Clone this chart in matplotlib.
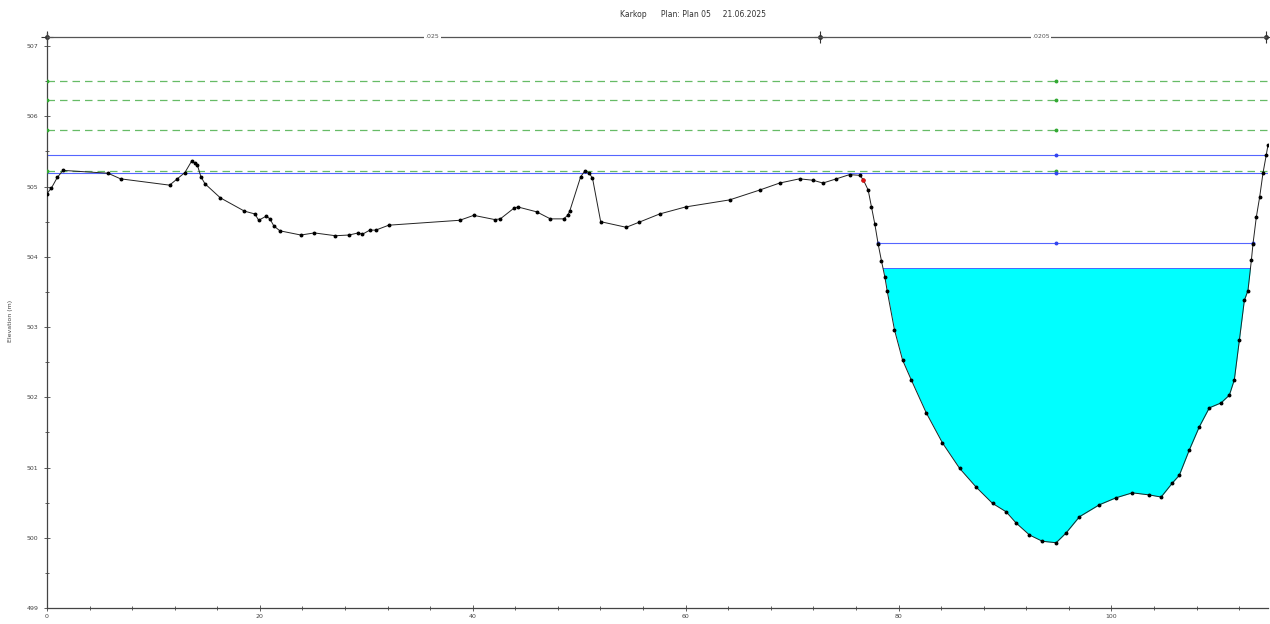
import numpy as np
import matplotlib
matplotlib.use("Agg")
import matplotlib.pyplot as plt
from matplotlib.ticker import MultipleLocator


# ground profile: station (m), elevation (m)
station = [0.0, 0.42, 0.97, 1.50, 5.73, 6.91, 11.52, 12.24, 12.96, 13.58, 13.94,
           14.12, 14.46, 14.84, 16.28, 18.55, 19.53, 19.89, 20.61, 20.94, 21.31,
           21.88, 23.85, 25.12, 27.10, 28.36, 29.26, 29.62, 30.33, 30.89, 32.11,
           38.78, 40.09, 42.07, 42.59, 43.85, 44.23, 46.01, 47.29, 48.54, 48.92,
           49.11, 50.14, 50.52, 50.89, 51.25, 52.02, 54.42, 55.59, 57.56, 60.00,
           64.13, 66.95, 68.83, 70.70, 71.96, 72.90, 74.16, 75.40, 76.34, 76.68,
           77.15, 77.46, 77.77, 78.09, 78.40, 78.72, 78.94, 79.62, 80.38, 81.19,
           82.60, 84.13, 85.73, 87.30, 88.83, 90.11, 91.05, 92.30, 93.52, 94.81,
           95.75, 97.00, 98.87, 100.44, 101.97, 103.57, 104.67, 105.73, 106.38,
           107.32, 108.26, 109.20, 110.30, 111.08, 111.55, 112.02, 112.49, 112.83,
           113.15, 113.30, 113.62, 113.93, 114.24, 114.55, 114.71]
elevation = [504.90, 504.98, 505.13, 505.23, 505.19, 505.11, 505.02, 505.11, 505.20,
             505.36, 505.33, 505.31, 505.14, 505.04, 504.84, 504.65, 504.61, 504.52,
             504.58, 504.54, 504.44, 504.37, 504.31, 504.34, 504.30, 504.31, 504.34,
             504.32, 504.38, 504.38, 504.45, 504.52, 504.59, 504.53, 504.54, 504.69,
             504.71, 504.64, 504.54, 504.54, 504.59, 504.65, 505.14, 505.22, 505.20,
             505.12, 504.50, 504.42, 504.49, 504.61, 504.71, 504.81, 504.95, 505.05,
             505.11, 505.09, 505.05, 505.11, 505.17, 505.16, 505.10, 504.95, 504.71,
             504.47, 504.18, 503.94, 503.71, 503.51, 502.96, 502.53, 502.25, 501.78,
             501.35, 500.99, 500.72, 500.49, 500.37, 500.21, 500.04, 499.95, 499.93,
             500.07, 500.30, 500.47, 500.57, 500.64, 500.61, 500.58, 500.78, 500.89,
             501.25, 501.58, 501.85, 501.92, 502.03, 502.25, 502.81, 503.38, 503.52,
             503.95, 504.18, 504.57, 504.85, 505.19, 505.45, 505.59]

# water surfaces
ws_dashed = [506.50, 506.23, 505.80, 505.22]
ws_full = [505.45, 505.19]
ws_channel = 504.20
ws_fill = 503.84

bank_left = 76.68
n_breaks = [0.0, 72.6, 114.5]
n_values = [".025", ".0205"]
n_label_x = [36.2, 93.4]

title = "Karkop      Plan: Plan 05     21.06.2025"

x = np.array(station)
z = np.array(elevation)
x_max = 114.71


def bank_crossings(level):
    # stations where the channel banks cross a given level
    left = (x > 70) & (x < 95)
    right = x >= 95
    xl = np.interp(level, z[left][::-1], x[left][::-1])
    xr = np.interp(level, z[right], x[right])
    return xl, xr


fig = plt.figure(figsize=(12.7, 6.24), dpi=100)
ax = fig.add_axes([0.037, 0.0256, 0.9614, 0.9214])

# water in the channel
ax.fill_between(x, z, ws_fill, where=z < ws_fill, interpolate=True,
                color="#00ffff", linewidth=0, zorder=1)
xl, xr = bank_crossings(ws_fill)
ax.plot([xl, xr], [ws_fill, ws_fill], color="#4466ff", lw=0.7, zorder=2)

# other water surfaces
for lvl in ws_dashed:
    ax.plot([0, x_max], [lvl, lvl], color="#66bb66", lw=0.9, ls=(0, (6, 4)), zorder=2)
    ax.plot([0, 94.8], [lvl, lvl], ls="none", marker="o", ms=1.8, color="#33aa33", zorder=3)
for lvl in ws_full:
    ax.plot([0, x_max], [lvl, lvl], color="#5566ff", lw=0.8, zorder=2)
    ax.plot([94.8], [lvl], ls="none", marker="o", ms=1.8, color="#3344ee", zorder=3)
xl, xr = bank_crossings(ws_channel)
ax.plot([xl, xr], [ws_channel, ws_channel], color="#5566ff", lw=0.8, zorder=2)
ax.plot([xl, 94.8, xr], [ws_channel] * 3, ls="none", marker="o", ms=1.8,
        color="#3344ee", zorder=3)

# ground
ax.plot(x, z, color="#222222", lw=0.7, marker="o", ms=1.8, mfc="black",
        mec="black", zorder=4)
ax.plot([bank_left], [np.interp(bank_left, x, z)], ls="none", marker="o", ms=2.2,
        color="#dd1111", zorder=5)

# manning's n bar
y_bar = 507.13
ax.plot([0, 114.5], [y_bar, y_bar], color="#555555", lw=0.9, zorder=3, clip_on=False)
ax.plot(n_breaks, [y_bar] * 3, ls="none", marker="+", ms=8, mew=0.8,
        color="#333333", clip_on=False)
ax.plot(n_breaks, [y_bar] * 3, ls="none", marker="o", ms=2.5, color="#333333",
        clip_on=False)
for xt, lab in zip(n_label_x, n_values):
    ax.text(xt, y_bar, lab, fontsize=4.5, ha="center", va="center", color="#555555",
            bbox=dict(facecolor="white", edgecolor="none", pad=1))

ax.set_xlim(0, x_max)
ax.set_ylim(499, 507.185)
ax.xaxis.set_major_locator(MultipleLocator(20))
ax.xaxis.set_minor_locator(MultipleLocator(4))
ax.yaxis.set_major_locator(MultipleLocator(1))
ax.yaxis.set_minor_locator(MultipleLocator(0.5))
ax.set_yticklabels([f"{v:.0f}" for v in ax.get_yticks()])
ax.tick_params(which="both", direction="inout", labelsize=4.5, colors="#444444",
               width=0.6)
ax.tick_params(which="major", length=5)
ax.tick_params(which="minor", length=3)
ax.tick_params(axis="x", pad=2)
for side in ["top", "right"]:
    ax.spines[side].set_visible(False)
for side in ["left", "bottom"]:
    ax.spines[side].set_color("#444444")
    ax.spines[side].set_linewidth(0.9)
ax.set_ylabel("Elevation (m)", fontsize=4.5, color="#444444", labelpad=10)

fig.text(0.546, 0.976, title, fontsize=5.5, ha="center", va="center", color="#333333")

fig.savefig("out.png", dpi=100, facecolor="white")
